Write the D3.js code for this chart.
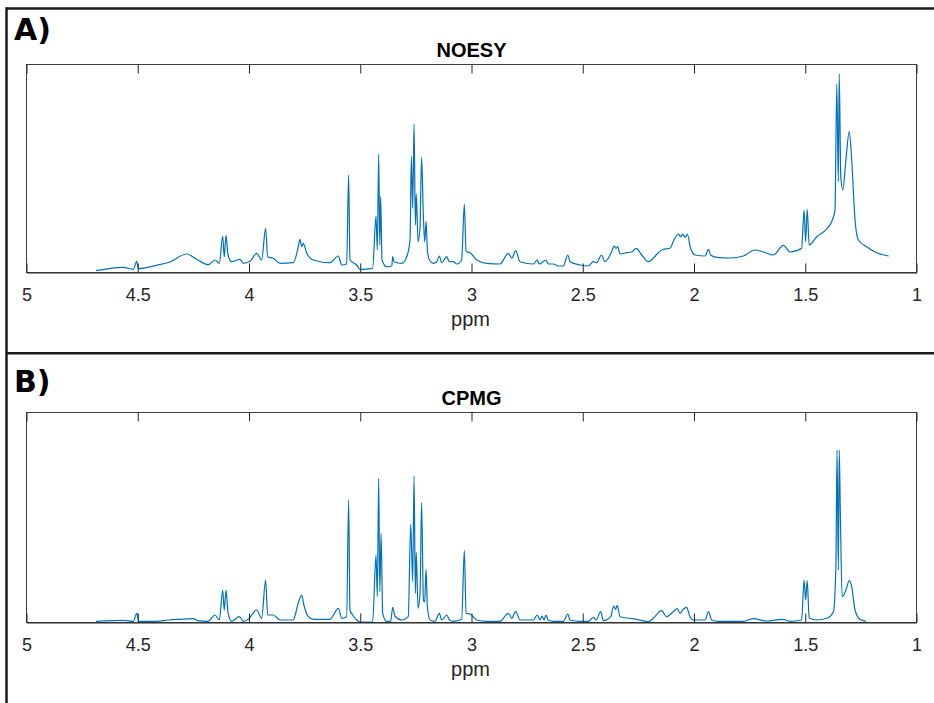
<!DOCTYPE html>
<meta charset="utf-8">
<head>
<style>
  body { margin: 0; background: #fff; }
  svg { display: block; }
  .tick text { font-family: "Liberation Sans", Arial, sans-serif; fill: #262626; }
</style>
</head>
<script src="https://d3js.org/d3.v7.min.js"></script>
<div id="chart"></div>
<script>

// tick values on the ppm axis
var ppmTicks = [5, 4.5, 4, 3.5, 3, 2.5, 2, 1.5, 1];

// NOESY spectrum (ppm, intensity)
var noesyPpm = [4.685, 4.563, 4.518, 4.502, 4.495, 4.413, 4.353, 4.278, 4.233, 4.181, 4.151, 4.131, 4.116, 4.109, 4.101, 4.092, 4.076, 4.038, 4.023, 3.993,
  3.963, 3.941, 3.923, 3.914, 3.889, 3.858, 3.799, 3.776, 3.769, 3.761, 3.754, 3.738, 3.709, 3.634, 3.596, 3.581, 3.559, 3.550, 3.544, 3.514,
  3.499, 3.442, 3.427, 3.421, 3.415, 3.410, 3.406, 3.400, 3.379, 3.356, 3.352, 3.346, 3.311, 3.289, 3.274, 3.268, 3.262, 3.256, 3.250, 3.246,
  3.238, 3.229, 3.222, 3.214, 3.208, 3.202, 3.196, 3.187, 3.169, 3.154, 3.142, 3.132, 3.109, 3.097, 3.080, 3.064, 3.042, 3.030, 3.022, 3.004,
  2.974, 2.929, 2.870, 2.832, 2.817, 2.799, 2.780, 2.720, 2.702, 2.693, 2.682, 2.663, 2.653, 2.630, 2.608, 2.585, 2.565, 2.555, 2.510, 2.473,
  2.450, 2.435, 2.413, 2.398, 2.368, 2.357, 2.348, 2.341, 2.330, 2.300, 2.278, 2.258, 2.233, 2.203, 2.181, 2.158, 2.136, 2.106, 2.088, 2.068,
  2.057, 2.049, 2.037, 2.028, 2.013, 1.993, 1.948, 1.933, 1.923, 1.896, 1.836, 1.776, 1.724, 1.686, 1.641, 1.596, 1.566, 1.514, 1.503, 1.496,
  1.489, 1.480, 1.446, 1.409, 1.379, 1.364, 1.356, 1.349, 1.345, 1.338, 1.329, 1.315, 1.300, 1.289, 1.274, 1.259, 1.222, 1.177, 1.123];
var noesyInt = [1.3, 4.7, 2.7, 10.7, 3.3, 6.7, 10, 18, 12.7, 7.3, 12, 8.7, 36, 15, 36.7, 17, 10.3, 12.7, 8.7, 10.7,
  18.7, 12, 43.7, 15.3, 13.7, 8.7, 9.3, 25.3, 32.7, 25.3, 28.7, 18.7, 12, 9.3, 16, 7, 8, 97, 12, 7,
  2.7, 3.7, 56, 22, 118, 27, 75.3, 12, 5.3, 6, 15.3, 10.3, 8.7, 15.3, 32, 115.3, 63.7, 148, 47, 78,
  30.3, 45.3, 114.7, 55.3, 30.3, 50.7, 22, 12, 8.7, 10.3, 16, 9.3, 15.3, 10.3, 10.3, 8, 12, 68, 20.3, 19.3,
  12, 8.7, 8, 18.7, 13.7, 21.3, 10.3, 8, 12, 8, 9.3, 12, 8, 8, 6, 6, 17, 10.3, 7, 6,
  10.3, 9.3, 17, 10.3, 20.3, 26, 23.7, 25.3, 18, 19.3, 20, 23.7, 17, 10.3, 13.7, 19.3, 22.7, 23.7, 32, 38,
  35.3, 38, 34.7, 38, 23.7, 17, 16, 22.7, 17, 14.7, 14, 16, 22, 20, 17, 26.7, 20, 23.7, 62, 30.3,
  62.7, 27, 35.3, 41.3, 50.3, 62, 188, 90.3, 198, 95.3, 82, 112, 140.3, 112, 52, 32, 25.3, 19.3, 16];

// CPMG spectrum (ppm, intensity)
var cpmgPpm = [4.685, 4.563, 4.518, 4.502, 4.493, 4.413, 4.360, 4.308, 4.248, 4.226, 4.181, 4.151, 4.131, 4.116, 4.109, 4.101, 4.092, 4.076, 4.041, 4.023,
  4.001, 3.963, 3.941, 3.923, 3.914, 3.889, 3.858, 3.799, 3.776, 3.761, 3.751, 3.731, 3.709, 3.634, 3.596, 3.581, 3.559, 3.550, 3.544, 3.532,
  3.514, 3.499, 3.442, 3.427, 3.421, 3.415, 3.410, 3.404, 3.397, 3.379, 3.361, 3.352, 3.342, 3.311, 3.282, 3.271, 3.262, 3.256, 3.250, 3.246,
  3.238, 3.229, 3.222, 3.214, 3.208, 3.202, 3.196, 3.184, 3.162, 3.142, 3.132, 3.109, 3.097, 3.080, 3.042, 3.030, 3.022, 3.004, 2.974, 2.929,
  2.870, 2.832, 2.817, 2.799, 2.780, 2.720, 2.702, 2.690, 2.681, 2.672, 2.663, 2.653, 2.630, 2.585, 2.565, 2.555, 2.510, 2.473, 2.450, 2.438,
  2.417, 2.405, 2.372, 2.359, 2.350, 2.343, 2.330, 2.300, 2.255, 2.203, 2.181, 2.143, 2.121, 2.091, 2.073, 2.061, 2.046, 2.031, 2.016, 2.001,
  1.948, 1.933, 1.918, 1.889, 1.836, 1.776, 1.731, 1.671, 1.599, 1.566, 1.514, 1.503, 1.496, 1.489, 1.480, 1.446, 1.401, 1.371, 1.360, 1.355,
  1.349, 1.345, 1.340, 1.332, 1.315, 1.300, 1.289, 1.274, 1.252, 1.225];
var cpmgInt = [0.7, 1.7, 0.7, 8.7, 0.7, 0.7, 2, 2.7, 3.3, 1.3, 0.7, 7, 2, 32, 12, 32, 9.3, 0.7, 5.3, 0.7,
  2.7, 12, 3.7, 42, 7, 7, 2, 2, 19.3, 27, 17, 5.3, 2.7, 2.7, 13.7, 3.7, 5.3, 122, 12, 7,
  2, 0, 0, 67, 25.3, 143.7, 30.3, 88.7, 8.7, 0.7, 0.7, 14.7, 6, 2, 5.3, 98, 40.3, 146, 28.7, 69.3,
  13.7, 28.7, 119.3, 22, 20, 52.7, 15.3, 2, 0.7, 8.7, 2, 7, 2, 0.7, 2.7, 71.3, 8.7, 8, 2, 0.7,
  0.7, 8.7, 3.7, 10.7, 2, 2, 7, 2, 6, 2, 7, 2, 0.7, 0.7, 8, 2, 0.7, 0.7, 4.7, 2,
  10.3, 1.3, 5.3, 16, 12.7, 16.7, 5.3, 4, 2.7, 0.3, 3.7, 11.3, 5.3, 10.3, 13.3, 8.7, 12.7, 14.7, 5.3, 2,
  2, 10.3, 2, 0.7, 0.7, 0.7, 3.3, 1, 2.7, 0.7, 2, 42, 22, 41.3, 3.7, 2, 3.7, 10.3, 55.3, 172,
  52, 172, 108.7, 25.3, 32, 41.3, 35.3, 12, 2.7, 0.7];

var panelLetters = ["A)", "B)"];
var panelTitles = ["NOESY", "CPMG"];

var W = 934, H = 703;
var svg = d3.select("#chart").append("svg")
  .attr("width", W)
  .attr("height", H);

// outer frame (top, left, divider)
svg.append("line").attr("x1", 6.5).attr("x2", W).attr("y1", 8.5).attr("y2", 8.5)
  .attr("stroke", "#1a1a1a").attr("stroke-width", 2.5);
svg.append("line").attr("x1", 6.5).attr("x2", 6.5).attr("y1", 7.3).attr("y2", H)
  .attr("stroke", "#1a1a1a").attr("stroke-width", 2.5);
svg.append("line").attr("x1", 6.5).attr("x2", W).attr("y1", 353.3).attr("y2", 353.3)
  .attr("stroke", "#1a1a1a").attr("stroke-width", 2.5);

var x = d3.scaleLinear().domain([5, 1]).range([26, 916]);

var panels = [
  { ppm: noesyPpm, val: noesyInt, top: 64, bottom: 272, yMax: 208, letterY: 40 },
  { ppm: cpmgPpm, val: cpmgInt, top: 412, bottom: 622, yMax: 210, letterY: 391.5 }
];

panels.forEach(function(p, i) {
  var y = d3.scaleLinear().domain([0, p.yMax]).range([p.bottom, p.top]);
  var g = svg.append("g");

  g.append("text")
    .attr("x", 14).attr("y", p.letterY)
    .style("font-family", "DejaVu Sans")
    .style("font-weight", "bold")
    .style("font-size", "30px")
    .attr("fill", "#000")
    .text(panelLetters[i]);

  g.append("text")
    .attr("x", 471.5).attr("y", p.top - 7.5)
    .attr("text-anchor", "middle")
    .style("font-family", "Liberation Sans")
    .style("font-weight", "bold")
    .style("font-size", "20px")
    .attr("fill", "#000")
    .text(panelTitles[i]);

  // spectrum
  var pts = p.ppm.map(function(d, k) { return [d, p.val[k]]; });
  var line = d3.line()
    .curve(d3.curveMonotoneX)
    .x(function(d) { return x(d[0]); })
    .y(function(d) { return y(d[1]); });
  g.append("path")
    .datum(pts)
    .attr("d", line)
    .attr("fill", "none")
    .attr("stroke", "#0072BD")
    .attr("stroke-width", 1.2)
    .attr("stroke-linejoin", "round");

  // box
  g.append("rect")
    .attr("x", 26.5).attr("y", p.top + 0.5)
    .attr("width", 890).attr("height", p.bottom - p.top)
    .attr("fill", "none")
    .attr("stroke", "#404040")
    .attr("stroke-width", 1);

  // bottom axis, ticks inward
  var ax = g.append("g")
    .attr("transform", "translate(0.5," + (p.bottom + 0.5) + ")")
    .call(d3.axisBottom(x).tickValues(ppmTicks).tickSizeInner(-9).tickSizeOuter(0)
      .tickFormat(d3.format("")));
  ax.select(".domain").attr("stroke", "#262626");
  ax.selectAll(".tick line").attr("stroke", "#262626");
  ax.selectAll(".tick text")
    .attr("y", 28.5).attr("dy", 0)
    .style("font-size", "18px");

  // top ticks
  var axt = g.append("g")
    .attr("transform", "translate(0.5," + (p.top + 0.5) + ")")
    .call(d3.axisTop(x).tickValues(ppmTicks).tickSizeInner(-9).tickSizeOuter(0)
      .tickFormat(""));
  axt.select(".domain").remove();
  axt.selectAll(".tick line").attr("stroke", "#262626");

  g.append("text")
    .attr("x", 470.5).attr("y", p.bottom + 54)
    .attr("text-anchor", "middle")
    .style("font-family", "Liberation Sans")
    .style("font-size", "20px")
    .attr("fill", "#262626")
    .text("ppm");
});

</script>
